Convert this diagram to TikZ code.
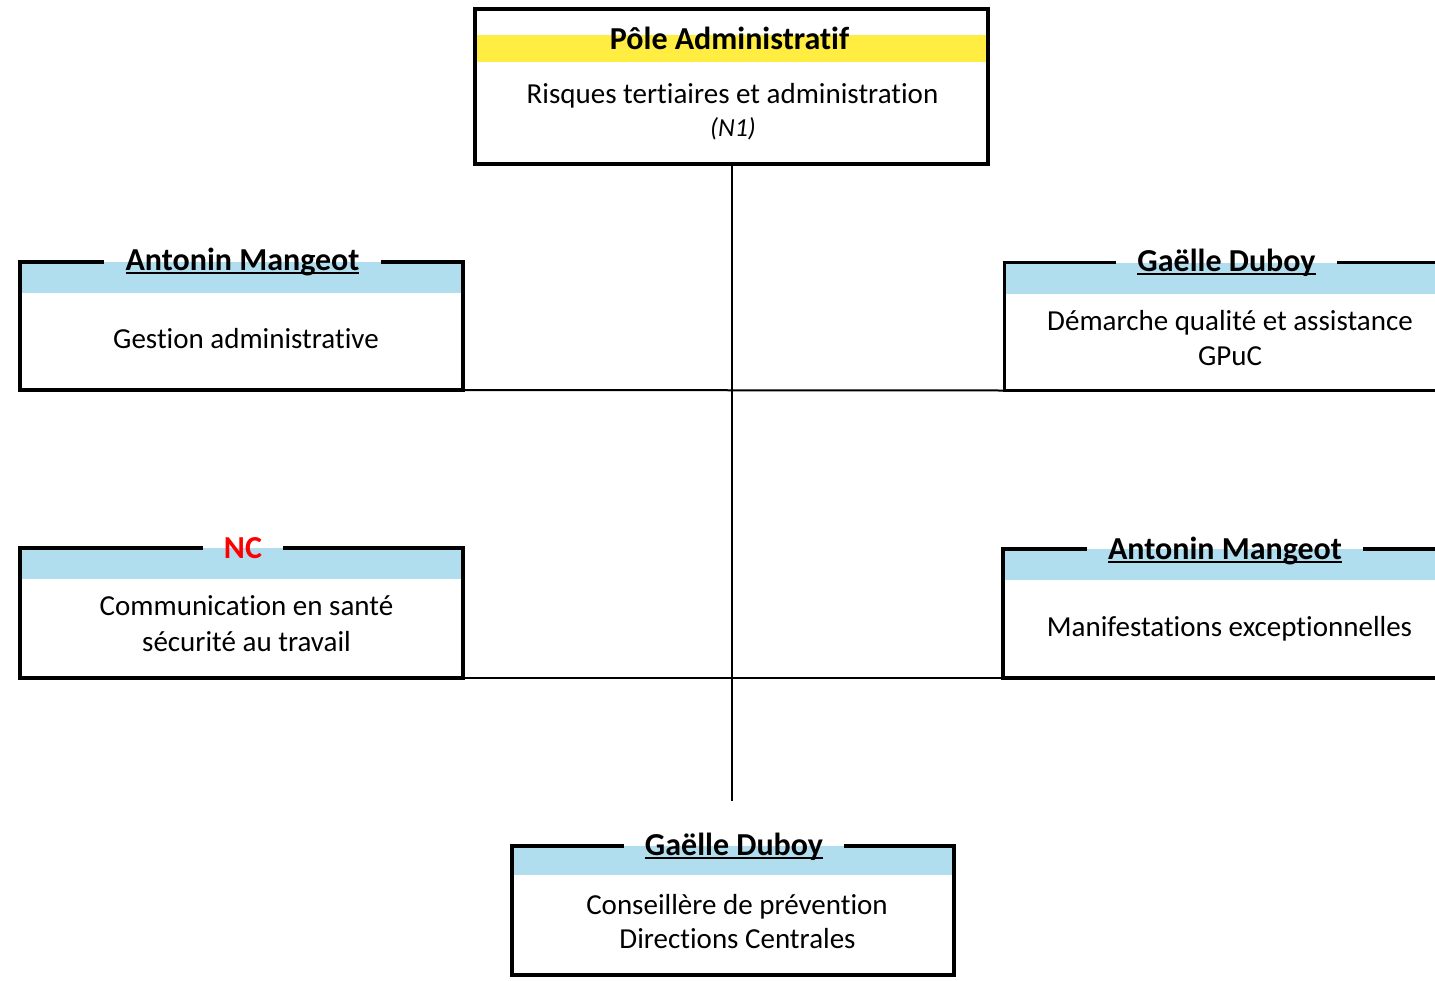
\documentclass[tikz,border=0pt]{standalone}
\usepackage{fontspec}
\setmainfont{Carlito}[Ligatures={NoCommon}]
\definecolor{bandyellow}{RGB}{255,237,65}
\definecolor{bandblue}{RGB}{176,222,238}
\definecolor{ncred}{RGB}{255,0,0}
\newcommand\ulname[1]{\setbox0\hbox{#1}\rlap{\vrule height -1.5pt depth 3.7pt width \wd0}\box0}
\begin{document}
\begin{tikzpicture}[x=1pt,y=-1pt,
  frame/.style={rectangle, inner sep=0pt, outer sep=0pt},
  border/.style={line width=3.2pt, line join=miter, draw=black},
  link/.style={line width=2pt, draw=black},
  titletext/.style={anchor=base, inner xsep=21pt, inner ysep=0pt, font=\fontsize{32}{38}\selectfont\bfseries},
  bodytext/.style={anchor=base, inner sep=0pt, font=\fontsize{29}{35}\selectfont},
]
\useasboundingbox (0,0) rectangle (1435,980);
\clip (0,0) rectangle (1435,980);

% box frames
\node[frame, minimum width=513pt, minimum height=155pt] (top) at (731.5,86.5) {};
\node[frame, minimum width=443pt, minimum height=128pt] (lb1) at (241.5,326) {};
\node[frame, minimum width=443pt, minimum height=128pt] (rb1) at (1226,326.5) {};
\node[frame, minimum width=443pt, minimum height=130pt] (lb2) at (241.5,613) {};
\node[frame, minimum width=443pt, minimum height=129pt] (rb2) at (1224.5,613.5) {};
\node[frame, minimum width=442pt, minimum height=129pt] (bot) at (733,910.5) {};

% bands
\fill[bandyellow] ([yshift=-26pt]top.north west) rectangle ([yshift=-52.5pt]top.north east);
\fill[bandblue] (lb1.north west) rectangle ([yshift=-31pt]lb1.north east);
\fill[bandblue] (rb1.north west) rectangle ([yshift=-31pt]rb1.north east);
\fill[bandblue] (lb2.north west) rectangle ([yshift=-31pt]lb2.north east);
\fill[bandblue] (rb2.north west) rectangle ([yshift=-31pt]rb2.north east);
\fill[bandblue] (bot.north west) rectangle ([yshift=-29pt]bot.north east);

% titles
\node[titletext] (topt) at (729.5,49) {Pôle Administratif};
\node[titletext] (lb1t) at (242.5,270.5) {\ulname{Antonin Mangeot}};
\node[titletext] (rb1t) at (1226.5,271) {\ulname{Gaëlle Duboy}};
\node[titletext, text=ncred] (lb2t) at (243,558) {NC};
\node[titletext] (rb2t) at (1225,559) {\ulname{Antonin Mangeot}};
\node[titletext] (bott) at (734,855) {\ulname{Gaëlle Duboy}};

% borders
\draw[border] (top.north west) rectangle (top.south east);
\draw[border] (lb1t.west |- lb1.north) -- (lb1.north west) -- (lb1.south west) -- (lb1.south east) -- (lb1.north east) -- (lb1t.east |- lb1.north);
\draw[border] (rb1t.west |- rb1.north) -- (rb1.north west) -- (rb1.south west) -- (rb1.south east) -- (rb1.north east) -- (rb1t.east |- rb1.north);
\draw[border] (lb2t.west |- lb2.north) -- (lb2.north west) -- (lb2.south west) -- (lb2.south east) -- (lb2.north east) -- (lb2t.east |- lb2.north);
\draw[border] (rb2t.west |- rb2.north) -- (rb2.north west) -- (rb2.south west) -- (rb2.south east) -- (rb2.north east) -- (rb2t.east |- rb2.north);
\draw[border] (bott.west |- bot.north) -- (bot.north west) -- (bot.south west) -- (bot.south east) -- (bot.north east) -- (bott.east |- bot.north);

% body texts
\node[bodytext] (topb1) at (732.5,103) {Risques tertiaires et administration};
\node[bodytext, font=\fontsize{26}{31}\selectfont\itshape] (topb2) at (733,136) {(N1)};
\node[bodytext] (lb1b) at (246,348) {Gestion administrative};
\node[bodytext] (rb1b1) at (1230,330.5) {Démarche qualité et assistance};
\node[bodytext] (rb1b2) at (1230,365) {GPuC};
\node[bodytext] (lb2b1) at (246.5,615) {Communication en santé};
\node[bodytext] (lb2b2) at (246.5,651) {sécurité au travail};
\node[bodytext] (rb2b) at (1229.5,636) {Manifestations exceptionnelles};
\node[bodytext] (botb1) at (737,914) {Conseillère de prévention};
\node[bodytext] (botb2) at (737.5,948) {Directions Centrales};

% connectors
\coordinate (trunkend) at (731.5,801);
\draw[link] (top.south) -- (trunkend);
\draw[link] (lb1.south east) -- (rb1.south west);
\draw[link] (lb2.south east) -- (rb2.south west);
\end{tikzpicture}
\end{document}
